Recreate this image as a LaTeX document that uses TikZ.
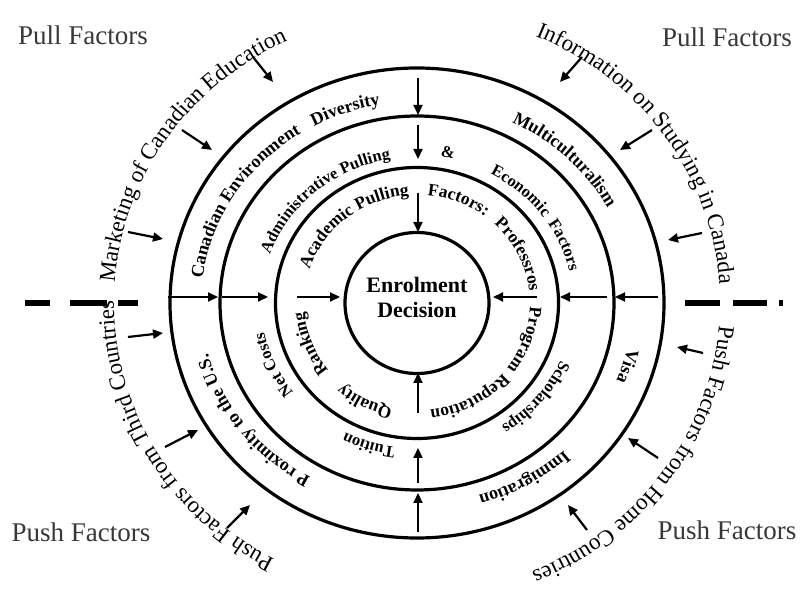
\documentclass[tikz,border=0pt]{standalone}
\usepackage{fontspec}
\setmainfont{Liberation Serif}
\usetikzlibrary{decorations.text,arrows.meta,shapes.geometric,calc}
\newcommand\fOut{\fontsize{23}{23}\selectfont}
\newcommand\fOne{\bfseries\fontsize{18}{18}\selectfont}
\newcommand\fTwo{\bfseries\fontsize{16.5}{16.5}\selectfont}
\newcommand\fThree{\bfseries\fontsize{17.5}{17.5}\selectfont}
% #1 font, #2 x radius, #3 y radius, #4 start angle, #5 delta angle, #6 text
\newcommand\ringtext[6]{%
  \path[decorate, decoration={text along path, text align=left, text={|#1|#6}}]
    ($(C)+(#4:#2 and #3)$) arc[start angle=#4, delta angle=#5, x radius=#2, y radius=#3];}
\tikzset{
  ring/.style={draw, ellipse, line width=3.2pt, inner sep=0pt, outer sep=0pt},
  arr/.style={line width=2.2pt, -{Triangle[length=10pt,width=9pt]}},
  dsh/.style={line width=5.5pt},
  corner/.style={text=black!78, font=\fontsize{27}{27}\selectfont, anchor=base},
}
\begin{document}
\begin{tikzpicture}[x=1pt,y=1pt]
\useasboundingbox (0,0) rectangle (803,597);
\coordinate (C) at (417,294);

% rings
\node[ring, minimum width=494pt, minimum height=470pt] (r1) at (C) {};
\node[ring, minimum width=394pt, minimum height=374pt] (r2) at (C) {};
\node[ring, minimum width=283pt, minimum height=271pt] (r3) at (C) {};
\node[ring, minimum width=144pt, minimum height=141pt] (core) at (C) {};
\node[font=\bfseries\fontsize{22}{25}\selectfont, align=center] (dec) at (417,299.5) {Enrolment\\Decision};

% corner labels
\node[corner] (pullL) at (83,552) {Pull Factors};
\node[corner] (pullR) at (727,550) {Pull Factors};
\node[corner] (pushL) at (81,56) {Push Factors};
\node[corner] (pushR) at (727,57) {Push Factors};

% dashed separators
\draw[dsh] (25,294) -- (50,294) (70,294) -- (107,294) (118,294) -- (138,294);
\draw[dsh] (685,294) -- (720,294) (733,294) -- (767,294) (779,294) -- (783,294);

% arrows
\foreach \n/\a/\b/\c/\d in {
  h1/168/300/218/300, h2/222/300/268/300, h3/297/300/340/300,
  h4/658/300/615/300, h5/607/300/560/300, h6/537/300/493/300,
  v1/418/519/418/482, v2/418/472/418/438, v3/418/404/418/365,
  v4/418/65/418/104, v5/418/114/418/149, v6/418/184/418/224,
  a1/253/540/273/515, a2/182/467/212/447, a3/128/365/163/358,
  b1/582/540/560/515, b2/652/467/620/447, b3/702/364/668/357,
  c1/128/260/163/264, c2/165/150/198/167, c3/227/69/250/92,
  d1/703/244/677/250, d2/658/139/628/159, d3/587/67/568/92}
{
  \coordinate (s\n) at (\a,\b);
  \coordinate (e\n) at (\c,\d);
  \draw[arr] (s\n) -- (e\n);
}

% outer texts
\ringtext{\fOut}{303pt}{290pt}{176}{-80}{Marketing of Canadian Education}
\ringtext{\fOut}{303pt}{290pt}{67}{-80}{Information on Studying in Canada}
\ringtext{\fOut}{303pt}{290pt}{-4.5}{-80}{Push Factors from Home Countries}
\ringtext{\fOut}{303pt}{290pt}{242}{-80}{Push Factors from Third Countries}

% ring 1
\ringtext{\fOne}{216pt}{201pt}{173}{-60}{Canadian Environment}
\ringtext{\fOne}{216pt}{201pt}{118.5}{-40}{Diversity}
\ringtext{\fOne}{216pt}{201pt}{64}{-50}{Multiculturalism}
\ringtext{\fOne}{216pt}{201pt}{-13}{-30}{Visa}
\ringtext{\fOne}{216pt}{201pt}{-47}{-40}{Immigration}
\ringtext{\fOne}{216pt}{201pt}{240.5}{-60}{P roximity to the U.S.}

% ring 2
\ringtext{\fTwo}{156pt}{146pt}{160.5}{-70}{Administrative Pulling}
\node[font=\fTwo, rotate=-10] (amp) at (448,445) {\&};
\ringtext{\fTwo}{156pt}{146pt}{62}{-35}{Economic}
\ringtext{\fTwo}{156pt}{146pt}{33}{-35}{Factors}
\ringtext{\fTwo}{156pt}{146pt}{-23}{-45}{Scholarships}
\ringtext{\fTwo}{156pt}{146pt}{262}{-35}{Tuition}
\ringtext{\fTwo}{156pt}{146pt}{217.7}{-40}{Net Costs}

% ring 3
\ringtext{\fThree}{113pt}{108pt}{162}{-80}{Academic Pulling}
\ringtext{\fThree}{113pt}{108pt}{84.7}{-45}{Factors:}
\ringtext{\fThree}{113pt}{108pt}{47}{-55}{Professros}
\ringtext{\fThree}{113pt}{108pt}{-2}{-50}{Program}
\ringtext{\fThree}{113pt}{108pt}{-40.5}{-60}{Reputation}
\ringtext{\fThree}{113pt}{108pt}{257.5}{-40}{Quality}
\ringtext{\fThree}{113pt}{108pt}{218.5}{-50}{Ranking}
\end{tikzpicture}
\end{document}
